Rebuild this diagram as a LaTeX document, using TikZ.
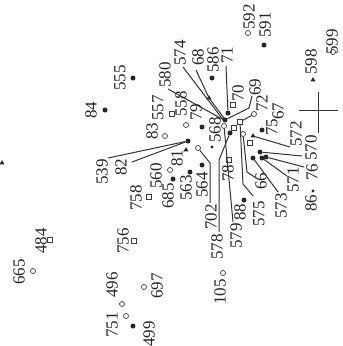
\documentclass[tikz,border=0pt]{standalone}
\usepackage{fontspec}
\setmainfont{Liberation Serif}
\usetikzlibrary{shapes.geometric}
\begin{document}
\begin{tikzpicture}[x=1pt,y=-1pt,
  lbl/.style={font=\fontsize{17}{17}\selectfont, rotate=90, inner sep=0pt, text=black!85},
  dotm/.style={circle, fill=black!85, inner sep=0pt, minimum size=5pt},
  sdot/.style={circle, fill=black!85, inner sep=0pt, minimum size=3.2pt},
  circm/.style={circle, draw=black!75, line width=0.7pt, inner sep=0pt, minimum size=5pt},
  sqm/.style={rectangle, draw=black!75, line width=0.7pt, inner sep=0pt, minimum size=5pt},
  trim/.style={regular polygon, regular polygon sides=3, fill=black!85, inner sep=0pt, minimum size=5.8pt},
  ln/.style={line width=1pt, draw=black!80}]
\fill[white] (0,0) rectangle (343,346);
\useasboundingbox (0,0) rectangle (343,346);
% labels
\node[lbl] (t555) at (120,78) {555};
\node[lbl] (t84) at (91,110) {84};
\node[lbl] (t580) at (165,75) {580};
\node[lbl] (t557) at (158,108) {557};
\node[lbl] (t558) at (181,104) {558};
\node[lbl] (t574) at (180,53) {574};
\node[lbl] (t68) at (198,57) {68};
\node[lbl] (t586) at (213,60) {586};
\node[lbl] (t71) at (227,55) {71};
\node[lbl] (t70) at (238,93) {70};
\node[lbl] (t69) at (255,87) {69};
\node[lbl] (t72) at (262,103) {72};
\node[lbl] (t67) at (278,111) {67};
\node[lbl] (t75) at (272,127) {75};
\node[lbl] (t572) at (296,134) {572};
\node[lbl] (t570) at (311,148) {570};
\node[lbl] (t76) at (312,172) {76};
\node[lbl] (t571) at (293,180) {571};
\node[lbl] (t573) at (281,206) {573};
\node[lbl] (t86) at (311,203) {86};
\node[lbl] (t66) at (261,181) {66};
\node[lbl] (t575) at (259,214) {575};
\node[lbl] (t88) at (240,212) {88};
\node[lbl] (t579) at (236,236) {579};
\node[lbl] (t578) at (217,247) {578};
\node[lbl] (t702) at (211,217) {702};
\node[lbl] (t78) at (228,173) {78};
\node[lbl] (t564) at (202,185) {564};
\node[lbl] (t563) at (186,188) {563};
\node[lbl] (t685) at (168,196) {685};
\node[lbl] (t560) at (156,176) {560};
\node[lbl] (t81) at (177,158) {81};
\node[lbl] (t83) at (152,131) {83};
\node[lbl] (t82) at (121,167) {82};
\node[lbl] (t539) at (102,172) {539};
\node[lbl] (t568) at (215,130) {568};
\node[lbl] (t79) at (196,112) {79};
\node[lbl] (t758) at (136,198) {758};
\node[lbl] (t756) at (123,241) {756};
\node[lbl] (t484) at (41,241) {484};
\node[lbl] (t665) at (19,272) {665};
\node[lbl] (t496) at (112,285) {496};
\node[lbl] (t751) at (112,325) {751};
\node[lbl] (t499) at (149,334) {499};
\node[lbl] (t697) at (157,286) {697};
\node[lbl] (t105) at (220,292) {105};
\node[lbl] (t598) at (311,62) {598};
\node[lbl] (t599) at (332,42) {599};
\node[lbl] (t592) at (249,17) {592};
\node[lbl] (t591) at (265,25) {591};
% filled dots
\node[dotm] (m555) at (133,78) {};
\node[dotm] (m84) at (105,110) {};
\node[dotm] (m586) at (212,78) {};
\node[dotm] (m591) at (264,45) {};
\node[dotm] (m70) at (228,113) {};
\node[dotm] (mc1) at (225,120) {};
\node[dotm] (mc2) at (230,133) {};
\node[dotm] (m79) at (202,127) {};
\node[dotm] (mconv) at (188,141) {};
\node[sdot] (m568) at (212,147) {};
\node[dotm] (m75) at (262,130) {};
\node[dotm] (md1) at (260,152) {};
\node[dotm] (md2) at (253,158) {};
\node[dotm] (md3) at (262,158) {};
\node[dotm] (md4) at (266,157) {};
\node[dotm] (m564) at (202,165) {};
\node[dotm] (m563) at (190,172) {};
\node[dotm] (m685) at (173,179) {};
\node[dotm] (m88) at (244,200) {};
\node[sdot] (m86) at (313,191) {};
\node[dotm] (m499) at (133,326) {};
% open circles
\node[circm] (m665) at (33,271) {};
\node[circm] (m496) at (122,304) {};
\node[circm] (m751) at (126,316) {};
\node[circm] (m697) at (144,287) {};
\node[circm] (m105) at (223,273) {};
\node[circm] (m592) at (248,33) {};
\node[circm] (m599) at (333,52) {};
\node[circm] (m558) at (186,125) {};
\node[circm] (m83) at (165,136) {};
\node[circm] (m702) at (198,148) {};
\node[circm] (mcen) at (224,126) {};
\node[circm] (mo2) at (243,134) {};
\node[circm] (m72) at (254,114) {};
\node[circm] (m81) at (170,170) {};
% squares
\node[sqm] (m484) at (50,240) {};
\node[sqm] (m756) at (134,241) {};
\node[sqm] (m758) at (149,197) {};
\node[sqm] (m557) at (172,114) {};
\node[sqm] (m70s) at (233,105) {};
\node[sqm] (ms1) at (240,122) {};
\node[sqm] (ms2) at (234,128) {};
\node[sqm] (ms3) at (250,143) {};
\node[sqm] (m78) at (229,160) {};
% triangles
\node[trim] (mtl) at (2,163) {};
\node[trim] (m598) at (313,80) {};
\node[trim] (m68) at (209,98) {};
\node[trim] (m81t) at (186,150) {};
\node[trim] (m572) at (253,136) {};
% cross
\coordinate (xl) at (299,110); \coordinate (xr) at (338,110);
\coordinate (xt) at (318,92); \coordinate (xb) at (318,133);
\draw[ln] (xl) -- (xr);
\draw[ln] (xt) -- (xb);
% connector end points
\coordinate (a580) at (168,89);  \coordinate (b580) at (222,119);
\coordinate (a574) at (183,67);  \coordinate (b574) at (224,121);
\coordinate (a68) at (196,70);   \coordinate (b68) at (224,118);
\coordinate (a71) at (226,66);
\coordinate (a69) at (252,96);   \coordinate (k69) at (249,108);
\coordinate (a570) at (302,156);
\coordinate (a76) at (304,167);
\coordinate (a571) at (287,176);
\coordinate (a573) at (278,192);
\coordinate (k66) at (247,172);  \coordinate (a66) at (256,178);
\coordinate (k575) at (243,184); \coordinate (a575) at (253,196);
\coordinate (a579) at (233,222);
\coordinate (k578) at (219,160); \coordinate (a578) at (219,232);
\coordinate (k702) at (210,163); \coordinate (a702) at (210,203);
\coordinate (a539) at (108,158);
\coordinate (a82) at (132,162);
\coordinate (a572) at (290,147);
% connectors
\draw[ln] (a580) -- (b580);
\draw[ln] (a574) -- (b574);
\draw[ln] (a68) -- (m68.center) -- (b68);
\draw[ln] (a71) -- (m70);
\draw[ln] (a69) -- (k69) -- (mc1);
\draw[ln] (m72) -- (ms1);
\draw[ln] (m572) -- (a572);
\draw[ln] (md1) -- (a570);
\draw[ln] (md4) -- (a76);
\draw[ln] (md3) -- (a571);
\draw[ln] (md2) -- (a573);
\draw[ln] (mo2) -- (k66) -- (a66);
\draw[ln] (ms1) -- (k575) -- (a575);
\draw[ln] (mcen) -- (a579);
\draw[ln] (mc2) -- (k578) -- (a578);
\draw[ln] (m702) -- (k702) -- (a702);
\draw[ln] (a539) -- (mconv);
\draw[ln] (a82) -- (mconv);
\end{tikzpicture}
\end{document}
